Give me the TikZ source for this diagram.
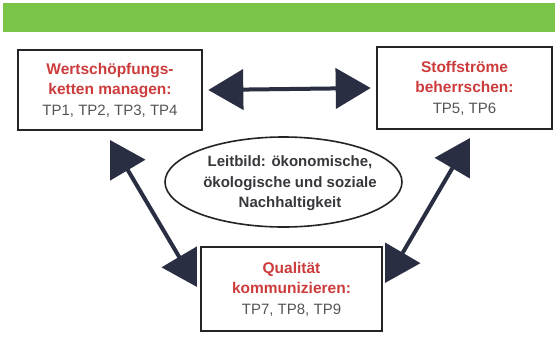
\documentclass[tikz,border=0pt]{standalone}
\usepackage{fontspec}
\setmainfont{Liberation Sans}
\usetikzlibrary{arrows.meta,shapes.geometric}
\definecolor{barGreen}{RGB}{122,196,72}
\definecolor{titleRed}{RGB}{205,60,60}
\definecolor{tpGrey}{RGB}{85,85,85}
\definecolor{leitGrey}{RGB}{55,55,60}
\definecolor{arrowNavy}{RGB}{42,46,66}
\definecolor{boxLine}{RGB}{35,35,40}
\tikzset{
  box/.style={draw=boxLine, line width=2.6pt, fill=white, align=center, inner sep=0pt,
    font=\fontsize{15}{20.5}\selectfont},
  bigarrow/.style={draw=arrowNavy, line width=4pt,
    {Triangle[length=35pt,width=40pt]}-{Triangle[length=35pt,width=40pt]}, arrowNavy},
  leitshape/.style={draw=boxLine, line width=1.6pt, ellipse, inner sep=0pt},
  leittext/.style={align=center, inner sep=0pt,
    font=\fontsize{15}{20.5}\selectfont\bfseries, text=leitGrey}
}
\newcommand{\tl}[1]{\textcolor{titleRed}{\fontsize{15.5}{20.5}\selectfont\bfseries #1}}
\newcommand{\tp}[1]{\textcolor{tpGrey}{#1}}
\begin{document}
\begin{tikzpicture}[x=1pt,y=-1pt]
\useasboundingbox (0,0) rectangle (555,338);
\fill[white] (0,0) rectangle (555,338);
\fill[barGreen] (3,3) rectangle (555,32);
% boxes
\node[box, minimum width=184pt, minimum height=80pt] (lbox) at (110,90)
  {\tl{Wertschöpfungs-}\\\tl{ketten managen:}\\\tp{TP1, TP2, TP3, TP4}};
\node[box, minimum width=175pt, minimum height=82pt] (rbox) at (464.5,88)
  {\tl{Stoffströme}\\\tl{beherrschen:}\\\tp{TP5, TP6}};
\node[box, minimum width=181pt, minimum height=84pt] (bbox) at (291.5,289)
  {\tl{Qualität}\\\tl{kommunizieren:}\\\tp{TP7, TP8, TP9}};
\node[leitshape, minimum width=237pt, minimum height=90pt] (leit) at (283.5,182) {};
\node[leittext] (leitlabel) at (290,183.5)
  {Leitbild: ökonomische,\\ökologische und soziale\\Nachhaltigkeit};
% arrow end points
\coordinate (hL) at ([xshift=5pt]lbox.east);
\coordinate (hR) at ([xshift=-5pt]rbox.west);
\coordinate (dLa) at (110,140);
\coordinate (dLb) at (197,287);
\coordinate (dRa) at (470,138);
\coordinate (dRb) at (385,283);
\draw[bigarrow] (hL) -- (hR);
\draw[bigarrow] (dLa) -- (dLb);
\draw[bigarrow] (dRa) -- (dRb);
\end{tikzpicture}
\end{document}
